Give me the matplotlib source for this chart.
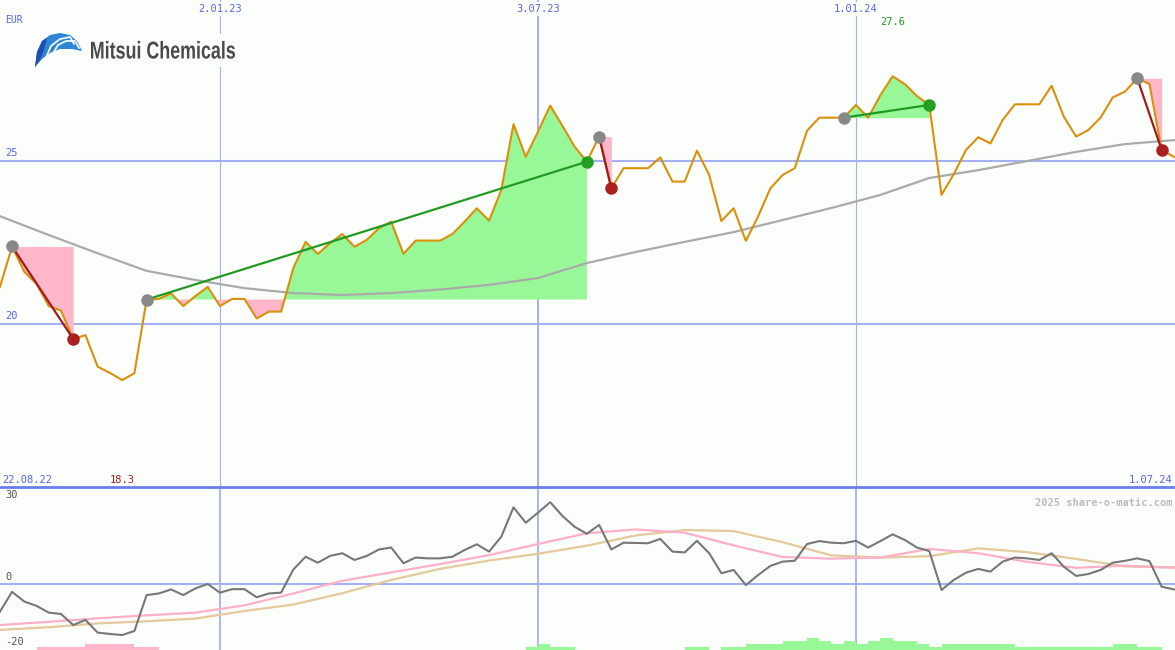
import matplotlib
matplotlib.use('Agg')
import matplotlib.pyplot as plt
import matplotlib.dates as mdates
import matplotlib.transforms as mtransforms
from matplotlib.patches import Polygon, Rectangle, PathPatch
from matplotlib.textpath import TextPath
from matplotlib.font_manager import FontProperties
import numpy as np
import pandas as pd

# Wochenkurse Mitsui Chemicals (EUR), ab 29.08.22
kurs = [21.13, 22.38, 21.60, 21.23, 20.55, 20.41, 19.54, 19.66, 18.69, 18.50,
        18.28, 18.49, 20.75, 20.77, 20.94, 20.55, 20.86, 21.14, 20.55, 20.77,
        20.77, 20.17, 20.38, 20.38, 21.72, 22.52, 22.15, 22.48, 22.76, 22.37,
        22.58, 22.94, 23.14, 22.15, 22.56, 22.56, 22.56, 22.76, 23.14, 23.55,
        23.17, 24.11, 26.13, 25.13, 25.90, 26.70, 26.08, 25.44, 24.98, 25.75,
        24.16, 24.78, 24.78, 24.78, 25.11, 24.37, 24.37, 25.32, 24.57, 23.16,
        23.55, 22.55, 23.30, 24.16, 24.57, 24.78, 25.93, 26.33, 26.33, 26.33,
        26.72, 26.33, 27.02, 27.60, 27.36, 26.99, 26.72, 23.96, 24.60, 25.34,
        25.73, 25.54, 26.26, 26.74, 26.74, 26.74, 27.31, 26.36, 25.75, 25.95,
        26.33, 26.95, 27.13, 27.54, 27.36, 25.34, 25.13]

durchschnitt = [23.31, 22.73, 22.17, 21.63, 21.35, 21.10, 20.95, 20.89, 20.95,
                21.06, 21.20, 21.41, 21.87, 22.21, 22.52, 22.82, 23.19, 23.56,
                23.96, 24.48, 24.72, 25.00, 25.28, 25.52, 25.64]

# Signale: Einstieg, Ausstieg, Richtung
signal_start = [1, 12, 49, 69, 93]
signal_ende = [6, 48, 50, 76, 95]
signal_typ = ['short', 'long', 'short', 'long', 'short']

# Indikator unten
indikator = [-10.3, -2.9, -6.5, -8.1, -10.6, -11.1, -15.2, -13.3, -18.0, -18.5,
             -18.9, -17.4, -4.1, -3.5, -2.0, -4.1, -1.6, 0.0, -3.2, -1.9,
             -1.9, -4.9, -3.5, -3.2, 5.4, 10.1, 7.9, 10.4, 11.4, 8.9,
             10.4, 12.8, 13.5, 7.7, 9.8, 9.5, 9.5, 10.1, 12.6, 14.7,
             12.0, 17.5, 28.4, 22.7, 26.4, 30.3, 25.2, 21.2, 18.6, 21.9,
             12.8, 15.3, 15.2, 15.1, 16.7, 12.0, 11.7, 16.0, 11.4, 4.0,
             5.2, -0.4, 3.3, 6.7, 8.3, 8.6, 14.8, 15.9, 15.3, 15.1,
             16.0, 13.5, 15.9, 18.4, 16.3, 13.5, 12.2, -2.2, 1.5, 4.2,
             5.6, 4.6, 8.3, 9.8, 9.5, 8.9, 11.4, 6.4, 3.0, 3.7,
             5.2, 7.9, 8.6, 9.5, 8.5, -1.0, -2.0]
signal_rosa = [-15.2, -14.0, -12.7, -11.6, -10.6, -7.9, -3.5, 1.2, 4.3, 7.4,
               10.7, 14.8, 18.8, 20.2, 19.0, 14.3, 10.0, 9.4, 9.8, 13.0,
               11.4, 8.2, 6.0, 6.8, 6.0]
signal_beige = [-17.0, -16.0, -14.6, -13.8, -12.8, -10.0, -7.6, -3.4, 1.5, 5.6,
                8.7, 11.2, 14.2, 18.0, 20.0, 19.6, 15.5, 10.6, 9.8, 10.3,
                13.2, 11.8, 9.3, 6.5, 6.2]

# Balken (Stufen, negativ = rosa, positiv = grün)
balken = [0, 0, 0, -1, -1, -1, -1, -2, -2, -2,
          -2, -1, -1, 0, 0, 0, 0, 0, 0, 0,
          0, 0, 0, 0, 0, 0, 0, 0, 0, 0,
          0, 0, 0, 0, 0, 0, 0, 0, 0, 0,
          0, 0, 0, 1, 2, 1, 1, 0, 0, 0,
          0, 0, 0, 0, 0, 0, 1, 1, 0, 1,
          1, 2, 2, 2, 3, 3, 4, 3, 2, 3,
          2, 3, 4, 3, 3, 2, 1, 2, 2, 2,
          2, 2, 2, 1, 1, 1, 1, 1, 1, 1,
          1, 2, 2, 1, 1, 0, 0]

linien_daten = ['2023-01-02', '2023-07-03', '2024-01-01']
linien_text = ['2.01.23', '3.07.23', '1.01.24']
linien_breite = [0.8, 1.4, 0.8]

# Farben
hintergrund = '#fcfefc'
blau_hell = '#a3b1f2'
blau = '#5566ee'
orange = '#d9900a'
gruen_f = '#98f898'
rosa_f = '#ffb6c8'

daten = pd.date_range('2022-08-29', periods=len(kurs), freq='7D')
x = mdates.date2num(daten)
x_ma = x[::4]
kurs = np.array(kurs)

fig = plt.figure(figsize=(11.75, 6.5), dpi=100)
fig.patch.set_facecolor(hintergrund)
ax = fig.add_axes([0, 163 / 650, 1, 487 / 650])
ax2 = fig.add_axes([0, 0, 1, 163 / 650])

x0 = mdates.date2num(pd.Timestamp('2022-08-29 02:00'))
x1 = mdates.date2num(pd.Timestamp('2024-07-01 15:00'))
for a in (ax, ax2):
    a.set_facecolor(hintergrund)
    a.set_xlim(x0, x1)
    a.set_xticks([])
    a.set_yticks([])
    for s in a.spines.values():
        s.set_visible(False)

# ---- oberes Diagramm ----
ax.set_ylim(15.0, 29.94)
ax.axhline(25, color=blau_hell, lw=1.5, zorder=1)
ax.axhline(20, color=blau_hell, lw=1.5, zorder=1)
for d, lw in zip(linien_daten, linien_breite):
    ax.axvline(mdates.date2num(pd.Timestamp(d)), color=blau_hell, lw=lw, zorder=1)

ax.plot(x_ma, durchschnitt, color='#aaaaaa', lw=1.6, zorder=3)

for s, e, t in zip(signal_start, signal_ende, signal_typ):
    xs = x[s:e + 1]
    ys = kurs[s:e + 1]
    niveau = kurs[s]
    ax.fill_between(xs, ys, niveau, where=ys >= niveau, interpolate=True,
                    color=gruen_f, lw=0, zorder=2)
    ax.fill_between(xs, ys, niveau, where=ys <= niveau, interpolate=True,
                    color=rosa_f, lw=0, zorder=2)
    farbe = '#229922' if t == 'long' else '#a01c1c'
    ax.plot([x[s], x[e]], [kurs[s], kurs[e]], color=farbe, lw=1.6, zorder=5)

ax.plot(x, kurs, color=orange, lw=1.5, zorder=4)

for s, e, t in zip(signal_start, signal_ende, signal_typ):
    farbe = '#22a022' if t == 'long' else '#aa2020'
    ax.plot(x[s], kurs[s], 'o', color='#888888', ms=8, zorder=6)
    ax.plot(x[e], kurs[e], 'o', color=farbe, ms=8, zorder=6)

mono = 'DejaVu Sans Mono'
trans = mtransforms.blended_transform_factory(ax.transData, ax.transAxes)
for d, t in zip(linien_daten, linien_text):
    xd = mdates.date2num(pd.Timestamp(d))
    ax.text(xd, 0.991, t, transform=trans, ha='center', va='top', color=blau,
            fontsize=7.5, family=mono, zorder=7,
            bbox=dict(facecolor=hintergrund, edgecolor='none', pad=1.5))

i_max = int(np.argmax(kurs))
i_min = int(np.argmin(kurs))
ax.text(x[i_max], 0.965, f'{kurs[i_max]:.1f}', transform=trans, ha='center', va='top',
        color='#229922', fontsize=7.5, family=mono)
ax.text(x[i_min], 0.004, f'{kurs[i_min]:.1f}', transform=trans, ha='center', va='bottom',
        color='#aa2020', fontsize=7.5, family=mono)
ax.text(0.002, 0.004, '22.08.22', transform=ax.transAxes, ha='left', va='bottom',
        color=blau, fontsize=7.5, family=mono)
ax.text(0.998, 0.004, '1.07.24', transform=ax.transAxes, ha='right', va='bottom',
        color=blau, fontsize=7.5, family=mono)
ax.text(0.004, 0.97, 'EUR', transform=ax.transAxes, ha='left', va='top',
        color=blau, fontsize=7, family=mono)
for w in (25, 20):
    ax.text(x0 + 3, w + 0.08, str(w), ha='left', va='bottom', color=blau,
            fontsize=7.5, family=mono)

# ---- unteres Diagramm ----
unten = -24.44
ax2.set_ylim(unten, 35.93)
ax2.axhline(0, color=blau_hell, lw=1.5, zorder=1)
for d in linien_daten:
    ax2.axvline(mdates.date2num(pd.Timestamp(d)), color=blau_hell, lw=1.3, zorder=1)
ax2.axhline(35.93, color='#6a7de8', lw=2.0, zorder=8, clip_on=False)

balken = np.array(balken)
hoehe = np.abs(balken) * 1.1
farben = [gruen_f if b > 0 else rosa_f for b in balken]
ax2.bar(x, hoehe, width=7, align='edge', bottom=unten, color=farben, lw=0, zorder=2)

ax2.plot(x_ma, signal_beige, color='#e3c99b', lw=1.6, zorder=3)
ax2.plot(x_ma, signal_rosa, color='#ffb0c8', lw=1.6, zorder=3)
ax2.plot(x, indikator, color='#777777', lw=1.5, zorder=4)

for w, dy in ((30, 1.0), (0, 0.8), (-20, -3.2)):
    ax2.text(x0 + 3, w + dy, str(w), ha='left', va='bottom', color='#555555',
             fontsize=7.5, family=mono)
ax2.text(0.998, 0.93, '2025 share-o-matic.com', transform=ax2.transAxes, ha='right',
         va='top', color='#bbbbbb', fontsize=7.5, family=mono, weight='bold')

# ---- Logo ----
ov = fig.add_axes([0, 0, 1, 1], zorder=10)
ov.set_xlim(0, 1175)
ov.set_ylim(650, 0)
ov.axis('off')
ov.patch.set_alpha(0)
ov.add_patch(Rectangle((30, 34), 208, 33, facecolor=hintergrund, edgecolor='none'))
fin = [(35, 67), (37, 52), (42, 41), (50, 35), (60, 33), (70, 35), (77, 41), (82, 51),
       (72, 49), (60, 49), (50, 53), (42, 59)]
ov.add_patch(Polygon(fin, closed=True, facecolor='#2f86d6', edgecolor='none'))
ov.add_patch(Polygon([(35, 67), (37, 52), (42, 41), (47, 38), (44, 50), (40, 60)],
                     closed=True, facecolor='#1f4fae', edgecolor='none'))
ov.plot([45, 51, 60, 70, 74], [60, 46, 39, 37, 44], color='white', lw=1.2)
ov.plot([52, 58, 66, 75, 79], [55, 45, 41, 41, 48], color='white', lw=1.2)

# Schriftzug schmal gestaucht
tp = TextPath((0, 0), 'Mitsui Chemicals', size=1,
              prop=FontProperties(family='Liberation Sans', weight='bold'))
bb = tp.get_extents()
sx = 144 / bb.width
sy = 17.6 / bb.y1
tr = mtransforms.Affine2D().translate(-bb.x0, 0).scale(sx, -sy).translate(91, 58.5)
ov.add_patch(PathPatch(tr.transform_path(tp), facecolor='#4a4a4c', edgecolor='none'))

fig.savefig('out.png', dpi=100, facecolor=hintergrund)
